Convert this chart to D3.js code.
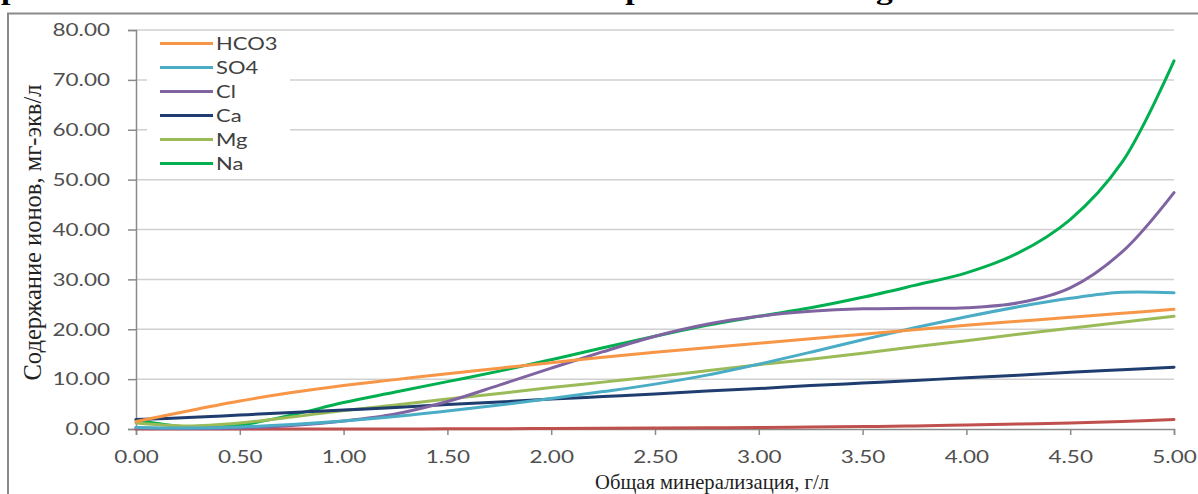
<!DOCTYPE html>
<html>
<head>
<meta charset="utf-8">
<script src="https://cdn.jsdelivr.net/npm/d3@7"></script>
<style>
  body { margin: 0; background: #fff; }
  svg { display: block; }
</style>
</head>
<body>
<svg id="chart" width="1198" height="494"></svg>
<script>
// минерализация, г/л
const xValues = [0, 0.25, 0.5, 0.75, 1, 1.25, 1.5, 1.75, 2, 2.25, 2.5, 2.75, 3, 3.25, 3.5, 3.75, 4, 4.25, 4.5, 4.75, 5];

// содержание ионов, мг-экв/л
const hco3 = [1.5, 3.6, 5.6, 7.3, 8.7, 9.9, 11.1, 12.2, 13.3, 14.4, 15.4, 16.3, 17.2, 18.1, 19.0, 19.9, 20.8, 21.6, 22.4, 23.2, 24.0];
const so4  = [0.3, 0.2, 0.4, 0.9, 1.6, 2.5, 3.6, 4.8, 6.1, 7.5, 9.0, 10.8, 13.0, 15.4, 17.9, 20.3, 22.5, 24.5, 26.2, 27.4, 27.3];
const cl   = [0.2, 0.1, 0.2, 0.7, 1.6, 3.0, 5.5, 8.8, 12.2, 15.5, 18.6, 21.0, 22.6, 23.6, 24.1, 24.2, 24.3, 25.3, 28.3, 35.5, 47.4];
const ca   = [1.9, 2.3, 2.8, 3.3, 3.8, 4.3, 4.9, 5.4, 6.0, 6.5, 7.0, 7.6, 8.1, 8.7, 9.2, 9.7, 10.3, 10.8, 11.4, 11.9, 12.4];
const mg   = [1.2, 0.6, 1.2, 2.4, 3.7, 4.8, 6.0, 7.1, 8.3, 9.4, 10.5, 11.7, 12.9, 14.0, 15.2, 16.5, 17.7, 19.0, 20.2, 21.4, 22.6];
const na   = [1.8, 0.4, 0.8, 2.8, 5.3, 7.4, 9.5, 11.6, 13.9, 16.3, 18.6, 20.8, 22.6, 24.3, 26.4, 28.8, 31.3, 35.3, 42.0, 53.5, 73.8];
const kk   = [0, 0, 0, 0, 0, 0, 0.05, 0.05, 0.1, 0.15, 0.2, 0.25, 0.3, 0.4, 0.5, 0.6, 0.8, 1.0, 1.2, 1.5, 1.9];

const seriesNames  = ["HCO3", "SO4", "Cl", "Ca", "Mg", "Na", "K"];
const seriesValues = [hco3, so4, cl, ca, mg, na, kk];
const seriesColors = ["#f79646", "#4bacc6", "#8064a2", "#1f3d6e", "#9bbb59", "#00b050", "#c0504d"];
const legendNames  = ["HCO3", "SO4", "Cl", "Ca", "Mg", "Na"];

const yTicks = [0, 10, 20, 30, 40, 50, 60, 70, 80];
const xTicks = [0, 0.5, 1, 1.5, 2, 2.5, 3, 3.5, 4, 4.5, 5];

const svg = d3.select("#chart");
const plot = { left: 136, right: 1174, top: 30, bottom: 429 };
const labelFont = "Lato, 'Open Sans', sans-serif";
const serif = "'Liberation Serif', 'DejaVu Serif', serif";

// растянуть текст по горизонтали, как на исходной картинке
function stretch(sel, k) {
    sel.each(function() {
        const w = this.getComputedTextLength();
        d3.select(this).attr("textLength", w * k).attr("lengthAdjust", "spacingAndGlyphs");
    });
}

const x = d3.scaleLinear().domain([0, 5]).range([plot.left, plot.right]);
const y = d3.scaleLinear().domain([0, 80]).range([plot.bottom, plot.top]);

// обрезанная подпись сверху (на исходнике видна только нижняя кромка)
svg.append("text")
    .attr("x", -38)
    .attr("y", -1)
    .attr("font-family", serif)
    .attr("font-weight", "bold")
    .attr("font-size", 28)
    .attr("textLength", 1228)
    .attr("lengthAdjust", "spacingAndGlyphs")
    .text("Dependence of the concentration of macrocomponents on the degree of mineralization");

// рамка диаграммы
svg.append("rect")
    .attr("x", 8).attr("y", 13.5)
    .attr("width", 1300).attr("height", 600)
    .attr("fill", "none")
    .attr("stroke", "#8a8a8a")
    .attr("stroke-width", 2);

// сетка
svg.append("g")
    .selectAll("line")
    .data(yTicks.filter(d => d > 0))
    .enter()
    .append("line")
    .attr("x1", plot.left).attr("x2", plot.right)
    .attr("y1", d => y(d)).attr("y2", d => y(d))
    .attr("stroke", "#d0d0d0")
    .attr("stroke-width", 1.5);

// оси
const yAxis = svg.append("g")
    .attr("transform", `translate(${plot.left},0)`)
    .call(d3.axisLeft(y).tickValues(yTicks).tickSize(8).tickPadding(18).tickFormat(d3.format(".2f")));

const xAxis = svg.append("g")
    .attr("transform", `translate(0,${plot.bottom})`)
    .call(d3.axisBottom(x).tickValues(xTicks).tickSize(6).tickPadding(15).tickFormat(d3.format(".2f")));

[yAxis, xAxis].forEach(a => {
    a.select(".domain").attr("stroke", "#8a8a8a").attr("stroke-width", 1.5);
    a.selectAll(".tick line").attr("stroke", "#8a8a8a").attr("stroke-width", 1.5);
    a.selectAll(".tick text")
        .attr("fill", "#505050")
        .attr("font-family", labelFont)
        .attr("font-size", 18)
        .call(stretch, 1.25);
});

// линии
const line = d3.line()
    .x((d, i) => x(xValues[i]))
    .y(d => y(d))
    .curve(d3.curveCatmullRom.alpha(0.5));

svg.append("g")
    .selectAll("path")
    .data(seriesValues.map((v, i) => ({ name: seriesNames[i], values: v, color: seriesColors[i] })).reverse())
    .enter()
    .append("path")
    .attr("d", d => line(d.values))
    .attr("fill", "none")
    .attr("stroke", d => d.color)
    .attr("stroke-width", 3)
    .attr("stroke-linejoin", "round")
    .attr("stroke-linecap", "round");

// легенда
const legend = svg.append("g");
legend.append("rect")
    .attr("x", 147).attr("y", 33)
    .attr("width", 143).attr("height", 143)
    .attr("fill", "#fff");

const items = legend.selectAll("g.item")
    .data(legendNames)
    .enter()
    .append("g")
    .attr("class", "item")
    .attr("transform", (d, i) => `translate(160,${43.5 + i * 24})`);

items.append("line")
    .attr("x1", 0).attr("x2", 53)
    .attr("stroke", d => seriesColors[seriesNames.indexOf(d)])
    .attr("stroke-width", 3);

items.append("text")
    .attr("x", 56)
    .attr("dy", "0.35em")
    .attr("fill", "#404040")
    .attr("font-family", labelFont)
    .attr("font-size", 18)
    .text(d => d)
    .call(stretch, 1.22);

// подписи осей
svg.append("text")
    .attr("x", 712)
    .attr("y", 489)
    .attr("text-anchor", "middle")
    .attr("font-family", serif)
    .attr("font-size", 22)
    .attr("fill", "#222")
    .attr("textLength", 234)
    .attr("lengthAdjust", "spacingAndGlyphs")
    .text("Общая минерализация, г/л");

svg.append("text")
    .attr("transform", `translate(41,${(plot.top + plot.bottom) / 2 + 3}) rotate(-90)`)
    .attr("text-anchor", "middle")
    .attr("font-family", serif)
    .attr("font-size", 25)
    .attr("fill", "#222")
    .attr("textLength", 296)
    .attr("lengthAdjust", "spacingAndGlyphs")
    .text("Содержание ионов, мг-экв/л");
</script>
</body>
</html>
